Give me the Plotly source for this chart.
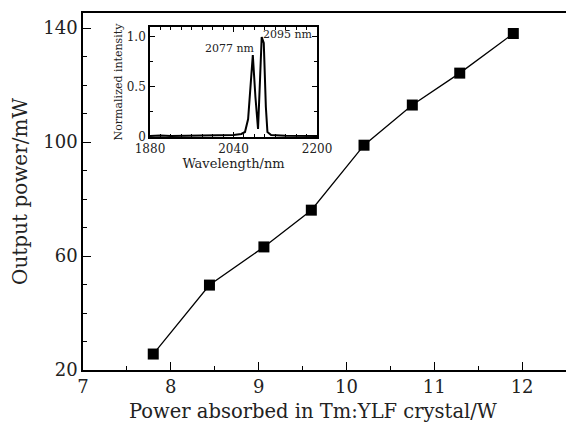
import plotly.graph_objects as go

# Main data
absorbed_power = [7.8, 8.44, 9.06, 9.6, 10.2, 10.75, 11.29, 11.9]
output_power = [25.6, 49.8, 63.2, 76.1, 98.9, 113.0, 124.2, 138.1]

# Inset spectrum
wavelength = [1880, 1890, 1900, 1920, 1960, 2000, 2040, 2055, 2062, 2068, 2072, 2077,
              2082, 2087, 2091, 2094, 2098, 2102, 2105, 2112, 2140, 2200]
intensity = [0.01, 0.012, 0.016, 0.01, 0.012, 0.015, 0.02, 0.03, 0.05, 0.18, 0.5, 0.82,
             0.4, 0.08, 0.6, 1.0, 0.94, 0.3, 0.05, 0.02, 0.012, 0.01]

peak_labels = ["2077 nm", "2095 nm"]
peak_pos = [2077, 2095]
peak_val = [0.82, 1.0]

FONT = "DejaVu Serif"
TXT = "#222"

fig = go.Figure()
fig.add_trace(go.Scatter(
    x=absorbed_power, y=output_power, mode="lines+markers",
    line=dict(color="black", width=1.3),
    marker=dict(symbol="square", size=11, color="black"),
    xaxis="x", yaxis="y", showlegend=False))

fig.add_trace(go.Scatter(
    x=wavelength, y=intensity, mode="lines",
    line=dict(color="black", width=2),
    xaxis="x2", yaxis="y2", showlegend=False))

axis_common = dict(showline=True, linecolor="black", linewidth=1.5, ticks="inside",
                   tickcolor="black", showgrid=False, zeroline=False, automargin=False)

fig.update_layout(
    width=566, height=426,
    margin=dict(l=83, r=0, t=13, b=56),
    plot_bgcolor="white", paper_bgcolor="white",
    font=dict(family=FONT, color=TXT),
    xaxis=dict(**axis_common, range=[7, 12.5], dtick=1, tick0=7, ticklen=8,
               mirror=True,
               minor=dict(dtick=0.5, ticklen=4, tickcolor="black", ticks="inside"),
               tickfont=dict(size=18)),
    yaxis=dict(**axis_common, range=[20, 145.3], dtick=40, tick0=20, ticklen=8,
               minor=dict(dtick=10, ticklen=4, tickcolor="black", ticks="inside"),
               tickfont=dict(size=18),
               title=dict(text="Output power/mW", font=dict(size=20), standoff=10)),
    xaxis2=dict(**axis_common, domain=[0.1387, 0.4845], anchor="y2", range=[1880, 2200],
                tickvals=[1880, 2040, 2200], ticklen=5, mirror="allticks",
                minor=dict(dtick=20, ticklen=3, tickcolor="black", ticks="inside"),
                tickfont=dict(size=12),
                title=dict(text="Wavelength/nm", font=dict(size=13), standoff=2)),
    yaxis2=dict(**axis_common, domain=[0.6527, 0.9608], anchor="x2", range=[0, 1.1],
                tickvals=[0, 0.5, 1.0], ticktext=["0", "0.5", "1.0"], ticklen=5,
                mirror="allticks",
                minor=dict(dtick=0.25, ticklen=3, tickcolor="black", ticks="inside"),
                tickfont=dict(size=12),
                title=dict(text="Normalized intensity", font=dict(size=11), standoff=2)),
)

fig.add_annotation(x=0.476, y=0, xref="paper", yref="paper", yanchor="top", yshift=-28,
                   text="Power absorbed in Tm:YLF crystal/W", showarrow=False,
                   font=dict(size=19.5, family=FONT, color=TXT))

fig.add_annotation(x=peak_pos[0], y=peak_val[0], xref="x2", yref="y2", text=peak_labels[0],
                   showarrow=False, xanchor="right", yanchor="bottom", xshift=4, yshift=-2,
                   font=dict(size=11, family=FONT, color=TXT))
fig.add_annotation(x=peak_pos[1], y=peak_val[1], xref="x2", yref="y2", text=peak_labels[1],
                   showarrow=False, xanchor="left", yanchor="bottom", xshift=-1, yshift=-6,
                   font=dict(size=11, family=FONT, color=TXT))

fig.write_html("out.html", config={"displayModeBar": False},
               post_script="document.body.style.margin='0';document.body.style.overflow='hidden';")
